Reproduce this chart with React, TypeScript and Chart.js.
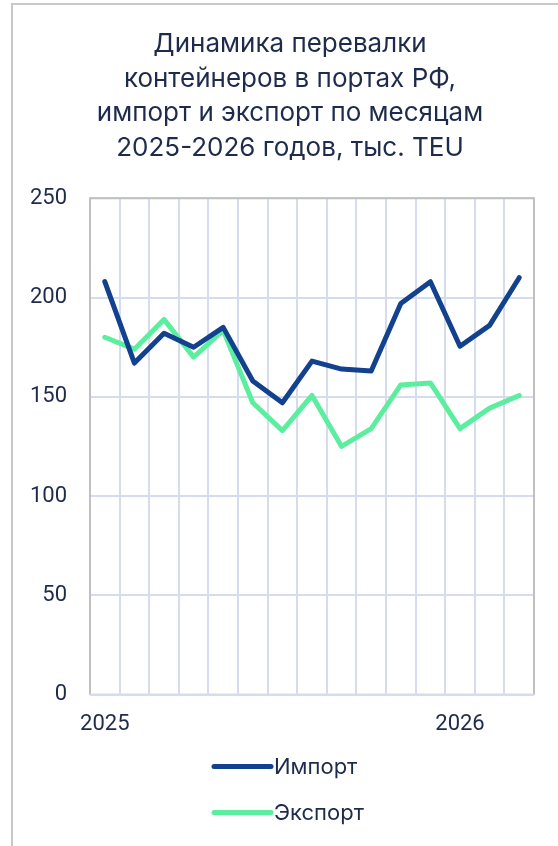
import React, { useEffect, useRef } from "react";
import { Chart, registerables } from "chart.js";

Chart.register(...registerables);

const titleLines = [
  "Динамика перевалки",
  "контейнеров в портах РФ,",
  "импорт и экспорт по месяцам",
  "2025-2026 годов, тыс. TEU",
];

const months = [
  "2025-01", "2025-02", "2025-03", "2025-04", "2025-05", "2025-06", "2025-07", "2025-08",
  "2025-09", "2025-10", "2025-11", "2025-12", "2026-01", "2026-02", "2026-03",
];
const tickLabels = ["2025", "", "", "", "", "", "", "", "", "", "", "", "2026", "", ""];

const importValues = [208, 167, 182, 175, 185, 158, 147, 168, 164, 163, 197, 208, 175.5, 186, 210];
const exportValues = [180, 174, 189, 170, 183.5, 147, 133, 150.7, 125, 134, 156, 157, 134, 144.3, 150.7];

const seriesNames = ["Импорт", "Экспорт"];
const seriesColors = ["#12418e", "#5cee9f"];

const FONT = "Inter, 'Noto Sans', sans-serif";
const NUMFONT = "Roboto, Inter, sans-serif";
const TEXT = "#1e2b4c";
const GRID = "#d5dcf0";
const BORDER = "#c0c0c0";

const frameLegendPlugin = {
  id: "frameLegend",
  beforeDatasetsDraw(chart: any) {
    const { ctx, chartArea: a } = chart;
    ctx.save();
    ctx.lineWidth = 2;
    ctx.strokeStyle = BORDER;
    ctx.beginPath();
    ctx.moveTo(a.left, a.bottom);
    ctx.lineTo(a.left, a.top);
    ctx.lineTo(a.right, a.top);
    ctx.lineTo(a.right, a.bottom);
    ctx.stroke();
    ctx.strokeStyle = GRID;
    ctx.beginPath();
    ctx.moveTo(a.left, a.bottom);
    ctx.lineTo(a.right, a.bottom);
    ctx.stroke();
    ctx.restore();
  },
  afterDraw(chart: any) {
    const { ctx, chartArea: a } = chart;
    ctx.save();
    const x0 = 214;
    const len = 57;
    seriesNames.forEach((name, i) => {
      const y = a.bottom + 72 + i * 46;
      ctx.strokeStyle = seriesColors[i];
      ctx.lineWidth = 5;
      ctx.lineCap = "round";
      ctx.beginPath();
      ctx.moveTo(x0, y);
      ctx.lineTo(x0 + len, y);
      ctx.stroke();
      ctx.fillStyle = TEXT;
      ctx.font = `22px ${FONT}`;
      ctx.textBaseline = "middle";
      ctx.textAlign = "left";
      ctx.fillText(name, x0 + len + 3, y + 1);
    });
    ctx.restore();
  },
};

export default function App() {
  const ref = useRef<HTMLCanvasElement>(null);
  useEffect(() => {
    if (!ref.current) return;
    const lineDs = (i: number, data: number[]) => ({
      label: seriesNames[i],
      data,
      borderColor: seriesColors[i],
      backgroundColor: seriesColors[i],
      borderWidth: 5,
      pointRadius: 0,
      tension: 0,
      borderJoinStyle: "round" as const,
      borderCapStyle: "round" as const,
    });
    const chart = new Chart(ref.current, {
      type: "line",
      data: {
        labels: months,
        datasets: [lineDs(0, importValues), lineDs(1, exportValues)],
      },
      options: {
        responsive: false,
        animation: false,
        devicePixelRatio: 1,
        layout: { padding: { left: 30, right: 30, top: 0, bottom: 91 } },
        plugins: {
          legend: { display: false },
          tooltip: { enabled: false },
          title: {
            display: true,
            text: titleLines,
            color: TEXT,
            font: { family: FONT, size: 26, weight: "normal", lineHeight: 1.33 },
            padding: { top: 27, bottom: 33 },
          },
        },
        scales: {
          x: {
            offset: true,
            grid: { offset: true, color: GRID, lineWidth: 2, drawTicks: false },
            border: { display: false },
            ticks: {
              autoSkip: false,
              maxRotation: 0,
              padding: 17,
              color: TEXT,
              font: { family: NUMFONT, size: 22 },
              callback: (_v: any, i: number) => tickLabels[i],
            },
          },
          y: {
            min: 0,
            max: 250,
            afterFit: (s: any) => {
              s.width = 60;
            },
            grid: { color: GRID, lineWidth: 2, drawTicks: false },
            border: { display: false },
            ticks: {
              stepSize: 50,
              padding: 23,
              color: TEXT,
              font: { family: NUMFONT, size: 22 },
            },
          },
          yRight: {
            position: "right",
            min: 0,
            max: 250,
            afterFit: (s: any) => {
              s.width = 16;
            },
            grid: { display: false },
            border: { display: false },
            ticks: { display: false },
          },
        },
      },
      plugins: [frameLegendPlugin],
    });
    return () => chart.destroy();
  }, []);

  return (
    <div style={{ position: "fixed", left: 0, top: 0, width: 558, height: 846, overflow: "hidden", background: "#fff" }}>
      <div
        style={{
          position: "absolute",
          left: 11,
          top: 3,
          width: 620,
          height: 900,
          border: "2px solid #c9c9c9",
          boxSizing: "border-box",
        }}
      />
      <canvas ref={ref} width={580} height={846} style={{ position: "absolute", left: 0, top: 0, width: 580, height: 846 }} />
    </div>
  );
}
